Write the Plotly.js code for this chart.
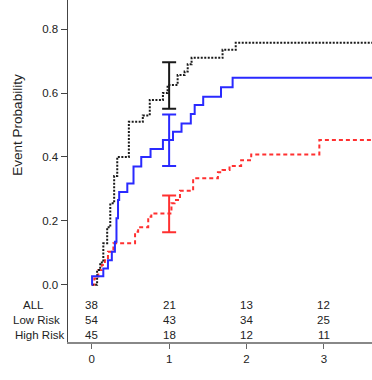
<!DOCTYPE html>
<html><head><meta charset="utf-8">
<script src="https://cdn.plot.ly/plotly-3.0.1.min.js"></script>
<style>html,body{margin:0;padding:0;background:#fff}#c{width:372px;height:380px}</style>
</head><body><div id="c"></div>
<script>
// ALL (black dotted) step curve
var allX = [0, 0.07, 0.11, 0.15, 0.20, 0.24, 0.29, 0.33, 0.48, 0.66, 0.75, 0.92, 0.98, 1.11, 1.20, 1.24, 1.29, 1.69, 1.86, 3.7];
var allY = [0, 0.046, 0.07, 0.13, 0.18, 0.255, 0.34, 0.40, 0.51, 0.53, 0.578, 0.60, 0.625, 0.656, 0.667, 0.69, 0.71, 0.735, 0.757, 0.757];
// Low Risk (blue solid)
var lowX = [0, 0.005, 0.15, 0.21, 0.26, 0.30, 0.32, 0.34, 0.355, 0.46, 0.54, 0.64, 0.76, 0.92, 1.05, 1.16, 1.28, 1.33, 1.44, 1.67, 1.82, 3.7];
var lowY = [0, 0.027, 0.051, 0.077, 0.103, 0.135, 0.208, 0.265, 0.29, 0.317, 0.37, 0.40, 0.425, 0.453, 0.479, 0.505, 0.534, 0.5625, 0.588, 0.618, 0.648, 0.648];
// High Risk (red dotted)
var highX = [0, 0.034, 0.085, 0.13, 0.17, 0.21, 0.28, 0.56, 0.60, 0.73, 0.77, 1.03, 1.07, 1.14, 1.31, 1.63, 1.69, 1.78, 1.93, 2.06, 2.94, 3.7];
var highY = [0, 0.02, 0.046, 0.062, 0.077, 0.103, 0.13, 0.166, 0.18, 0.213, 0.223, 0.255, 0.265, 0.294, 0.333, 0.352, 0.359, 0.372, 0.39, 0.408, 0.453, 0.453];

// confidence intervals at t = 1
var ciX = 1;
var ciCenter = [0.625, 0.453, 0.223];
var ciUpper = [0.696, 0.533, 0.279];
var ciLower = [0.551, 0.372, 0.164];

// numbers at risk
var groupNames = ["ALL", "Low Risk", "High Risk"];
var riskTimes = [0, 1, 2, 3];
var riskAll = [38, 21, 13, 12];
var riskLow = [54, 43, 34, 25];
var riskHigh = [45, 18, 12, 11];

var xTicks = [0, 1, 2, 3];
var yTicks = [0, 0.2, 0.4, 0.6, 0.8];
var yTickText = ["0.0", "0.2", "0.4", "0.6", "0.8"];

var colors = ["#1a1a1a", "#2a2aff", "#ff3030"];
var font = "Liberation Sans, Arial, sans-serif";

var traces = [
  {x: highX, y: highY, mode: "lines", line: {shape: "hv", color: colors[2], width: 2, dash: "4px,3px"}, hoverinfo: "skip"},
  {x: allX, y: allY, mode: "lines", line: {shape: "hv", color: colors[0], width: 2, dash: "2px,1.5px"}, hoverinfo: "skip"},
  {x: lowX, y: lowY, mode: "lines", line: {shape: "hv", color: colors[1], width: 2}, hoverinfo: "skip"}
];
for (var i = 0; i < 3; i++) {
  traces.push({
    x: [ciX], y: [ciCenter[i]], mode: "markers", marker: {size: 1, opacity: 0},
    error_y: {type: "data", symmetric: false, array: [ciUpper[i] - ciCenter[i]], arrayminus: [ciCenter[i] - ciLower[i]],
      color: colors[i], thickness: 2, width: 7},
    hoverinfo: "skip"
  });
}

var ann = [];
var rows = [riskAll, riskLow, riskHigh];
var rowY = [-0.064, -0.111, -0.158];
var labelX = [-0.115, -0.102, -0.095];
for (var r = 0; r < 3; r++) {
  ann.push({xref: "paper", yref: "y", x: labelX[r], y: rowY[r], text: groupNames[r], showarrow: false,
    xanchor: "center", yanchor: "middle", font: {family: font, size: 11.5, color: "#222"}});
  for (var k = 0; k < riskTimes.length; k++) {
    ann.push({xref: "x", yref: "y", x: riskTimes[k], y: rowY[r], text: String(rows[r][k]), showarrow: false,
      xanchor: "center", yanchor: "middle", font: {family: font, size: 11.5, color: "#222"}});
  }
}
ann.push({xref: "paper", yref: "paper", x: -0.165, y: 0.635, text: "Event Probability", textangle: -90, showarrow: false,
  xanchor: "center", yanchor: "middle", font: {family: font, size: 13.5, color: "#222"}});
ann.push({xref: "paper", yref: "paper", x: 0.81, y: -0.103, text: "Time", showarrow: false,
  xanchor: "left", yanchor: "top", font: {family: font, size: 12, color: "#222"}});

var layout = {
  width: 372, height: 380,
  margin: {l: 68, r: 0, t: 0, b: 38},
  paper_bgcolor: "#fff", plot_bgcolor: "#fff",
  showlegend: false,
  xaxis: {range: [-0.306, 3.62], tickvals: xTicks, ticktext: xTicks.map(String), ticks: "outside", ticklen: 5, tickwidth: 1,
    tickcolor: "#666", showline: true, linecolor: "#888", linewidth: 2, showgrid: false, zeroline: false,
    tickfont: {family: font, size: 11.5, color: "#222"}},
  yaxis: {range: [-0.179, 0.891], tickvals: yTicks, ticktext: yTickText, ticks: "outside", ticklen: 6, tickwidth: 1,
    tickcolor: "#444", showline: true, linecolor: "#444", linewidth: 1.5, showgrid: false, zeroline: false,
    tickfont: {family: font, size: 11.5, color: "#222"}},
  annotations: ann
};
Plotly.newPlot("c", traces, layout, {staticPlot: true, displayModeBar: false});
</script></body></html>
